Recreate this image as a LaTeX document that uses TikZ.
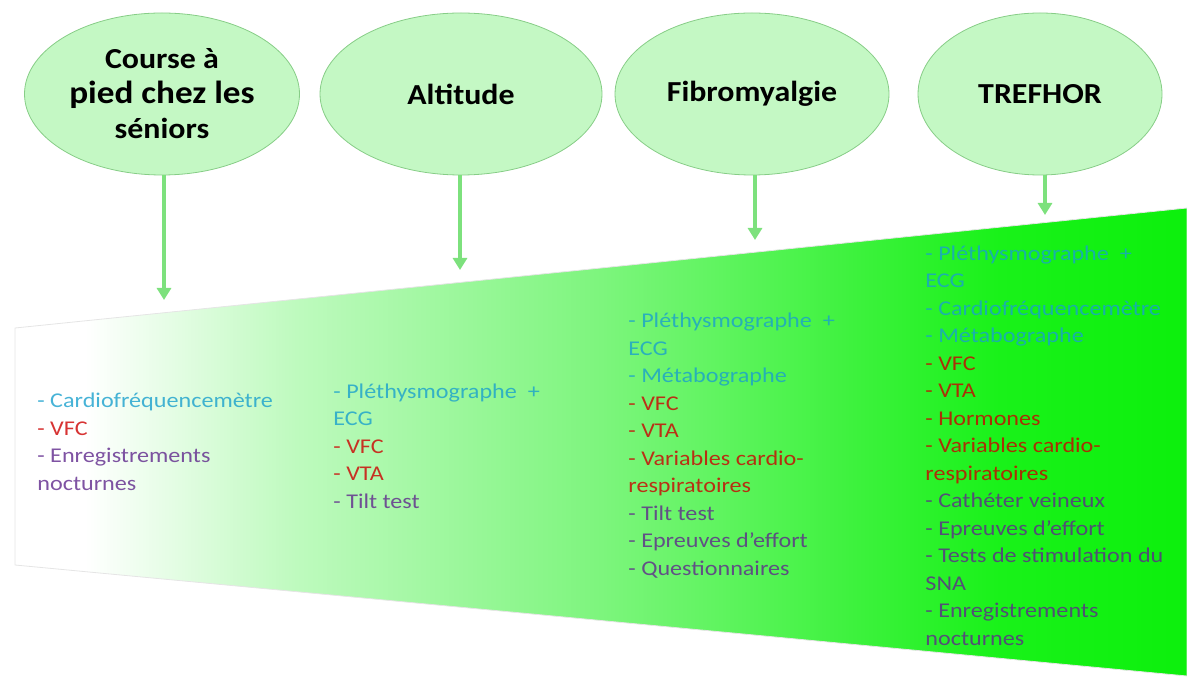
\documentclass[tikz,border=0pt]{standalone}
\usepackage{fontspec}
\setmainfont{Carlito}
\newfontfamily\bodyfont[FakeStretch=1.15]{Carlito}
\newfontfamily\titlefont[FakeStretch=1.1]{Carlito}
\usepackage{xcolor}
\usetikzlibrary{shapes.geometric,arrows.meta,positioning}

\definecolor{ellfill}{RGB}{196,248,196}
\definecolor{elldraw}{RGB}{135,205,135}
\definecolor{arrowgreen}{RGB}{125,225,125}
\definecolor{tcyan}{RGB}{25,160,205}
\definecolor{tred}{RGB}{205,0,0}
\definecolor{tpurple}{RGB}{95,40,140}
\definecolor{ga}{RGB}{190,250,190}
\definecolor{gb}{RGB}{125,245,125}
\definecolor{gc}{RGB}{60,242,60}
\definecolor{gd}{RGB}{25,242,25}
\definecolor{ge}{RGB}{12,240,12}

\pgfdeclarehorizontalshading{trapshade}{100bp}{color(0bp)=(white); color(25bp)=(white);
  color(28bp)=(white); color(37bp)=(ga); color(50bp)=(gb); color(61bp)=(gc);
  color(67bp)=(gd); color(75bp)=(ge); color(100bp)=(ge)}

\newcommand\cy[1]{{\color{tcyan}#1}}
\newcommand\rd[1]{{\color{tred}#1}}
\newcommand\pu[1]{{\color{tpurple}#1}}

\tikzset{
  theme/.style={ellipse, draw=elldraw, fill=ellfill, minimum height=81pt,
    inner sep=0pt, align=center, font=\titlefont\bfseries\fontsize{14.5}{17.5}\selectfont},
  link/.style={arrowgreen, line width=2pt, -{Triangle[width=7pt,length=6pt]}},
  measures/.style={anchor=base west, align=left, inner sep=0pt,
    font=\bodyfont\fontsize{10.5}{13.75}\selectfont, text opacity=0.8},
}

\begin{document}
\begin{tikzpicture}[x=0.5pt,y=-0.5pt]
  \useasboundingbox (0,0) rectangle (1187,678);

  % band
  \path[shading=trapshade, draw=black!10, line width=0.4pt]
    (15,328) -- (1187,208) -- (1187,676) -- (15,565) -- cycle;

  % themes
  \node[theme, minimum width=137.5pt] (c1) at (162,94)
    {Course à\\{\fontsize{16}{17.5}\selectfont pied chez les}\\séniors};
  \node[theme, minimum width=141pt] (c2) at (461,94) {Altitude};
  \node[theme, minimum width=137pt] (c3) at (752,94) {Fibromyalgie};
  \node[theme, minimum width=122pt] (c4) at (1040,94) {TREFHOR};

  % arrows
  \coordinate (a1) at (164,300);
  \coordinate (a2) at (460,270);
  \coordinate (a3) at (755,240);
  \coordinate (a4) at (1045,215);
  \foreach \i in {1,...,4}
    \draw[link] (c\i.south -| a\i) -- (a\i);

  % measures
  \node[measures] (m1) at (37,490) {\cy{- Cardiofréquencemètre}\\\rd{- VFC}\\
    \pu{- Enregistrements}\\\pu{nocturnes}};
  \node[measures] (m2) at (333,508) {\cy{- Pléthysmographe~ +}\\\cy{ECG}\\
    \rd{- VFC}\\\rd{- VTA}\\\pu{- Tilt test}};
  \node[measures] (m3) at (628,575) {\cy{- Pléthysmographe~ +}\\\cy{ECG}\\
    \cy{- Métabographe}\\\rd{- VFC}\\\rd{- VTA}\\\rd{- Variables cardio-}\\
    \rd{respiratoires}\\\pu{- Tilt test}\\\pu{- Epreuves d’effort}\\
    \pu{- Questionnaires}};
  \node[measures] (m4) at (925,645) {\cy{- Pléthysmographe~ +}\\\cy{ECG}\\
    \cy{- Cardiofréquencemètre}\\\cy{- Métabographe}\\\rd{- VFC}\\\rd{- VTA}\\
    \rd{- Hormones}\\\rd{- Variables cardio-}\\\rd{respiratoires}\\
    \pu{- Cathéter veineux}\\\pu{- Epreuves d’effort}\\
    \pu{- Tests de stimulation du}\\\pu{SNA}\\\pu{- Enregistrements}\\
    \pu{nocturnes}};
\end{tikzpicture}
\end{document}
